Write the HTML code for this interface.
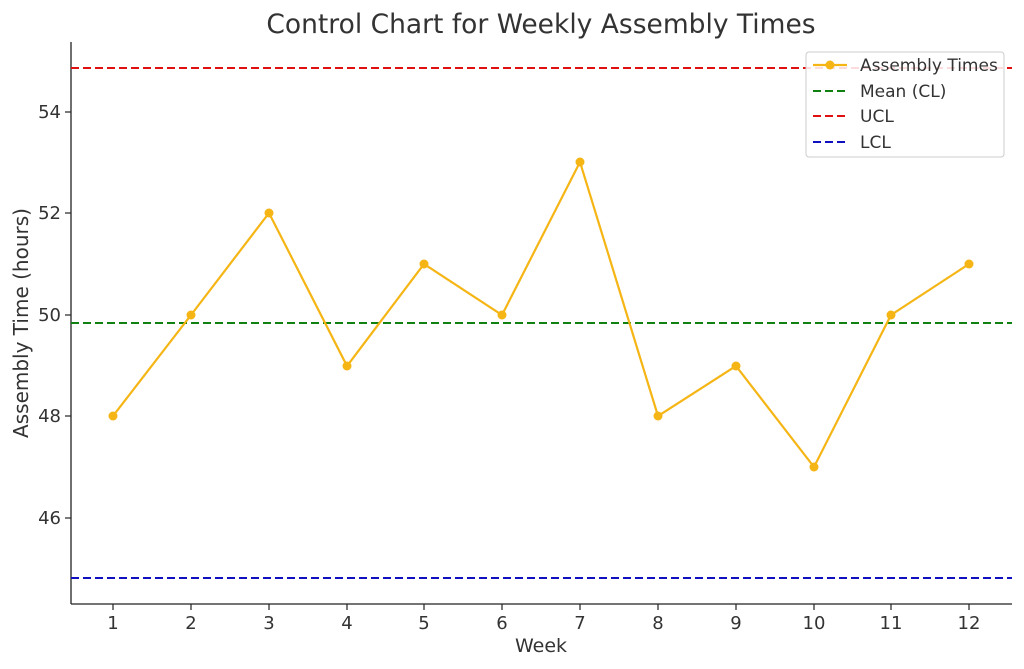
<!DOCTYPE html>
<html><head><meta charset="utf-8"><style>
body{margin:0;background:#fff;}
svg{display:block;font-family:"DejaVu Sans","Liberation Sans",sans-serif;}
</style></head><body>
<svg width="1024" height="669" viewBox="0 0 1024 669">
<text x="541" y="33" font-size="26.5" fill="#333" text-anchor="middle">Control Chart for Weekly Assembly Times</text>
<line x1="71" y1="42" x2="71" y2="604" stroke="#222" stroke-width="1.3"/>
<line x1="71" y1="604" x2="1012" y2="604" stroke="#222" stroke-width="1.3"/>
<g stroke="#222" stroke-width="1.2">
<line x1="65" y1="112" x2="71" y2="112"/><line x1="65" y1="213" x2="71" y2="213"/><line x1="65" y1="315" x2="71" y2="315"/><line x1="65" y1="416" x2="71" y2="416"/><line x1="65" y1="518" x2="71" y2="518"/>
</g>
<g font-size="18" fill="#333" text-anchor="end">
<text x="61" y="118">54</text><text x="61" y="219">52</text><text x="61" y="321">50</text><text x="61" y="422">48</text><text x="61" y="524">46</text>
</g>
<g font-size="18" fill="#333" text-anchor="middle">
<text x="113" y="629">1</text><text x="191" y="629">2</text><text x="269" y="629">3</text><text x="347" y="629">4</text><text x="424" y="629">5</text><text x="502" y="629">6</text><text x="580" y="629">7</text><text x="658" y="629">8</text><text x="736" y="629">9</text><text x="814" y="629">10</text><text x="891" y="629">11</text><text x="969" y="629">12</text>
</g>
<g stroke="#222" stroke-width="1.2">
<line x1="113" y1="604" x2="113" y2="610"/><line x1="191" y1="604" x2="191" y2="610"/><line x1="269" y1="604" x2="269" y2="610"/><line x1="347" y1="604" x2="347" y2="610"/><line x1="424" y1="604" x2="424" y2="610"/><line x1="502" y1="604" x2="502" y2="610"/><line x1="580" y1="604" x2="580" y2="610"/><line x1="658" y1="604" x2="658" y2="610"/><line x1="736" y1="604" x2="736" y2="610"/><line x1="814" y1="604" x2="814" y2="610"/><line x1="891" y1="604" x2="891" y2="610"/><line x1="969" y1="604" x2="969" y2="610"/>
</g>
<text x="541" y="652" font-size="19" fill="#333" text-anchor="middle">Week</text>
<text transform="translate(28,323) rotate(-90)" font-size="20" fill="#333" text-anchor="middle">Assembly Time (hours)</text>
<line x1="71" y1="68" x2="1012" y2="68" stroke="#e01010" stroke-width="2" stroke-dasharray="8,4"/>
<line x1="71" y1="323" x2="1012" y2="323" stroke="#108010" stroke-width="2" stroke-dasharray="8,4"/>
<line x1="71" y1="578" x2="1012" y2="578" stroke="#1010c0" stroke-width="2" stroke-dasharray="8,4"/>
<polyline fill="none" stroke="#f5b515" stroke-width="2.2" points="113,416 191,315 269,213 347,366 424,264 502,315 580,162 658,416 736,366 814,467 891,315 969,264"/>
<g fill="#f5b515">
<circle cx="113" cy="416" r="4.5"/><circle cx="191" cy="315" r="4.5"/><circle cx="269" cy="213" r="4.5"/><circle cx="347" cy="366" r="4.5"/><circle cx="424" cy="264" r="4.5"/><circle cx="502" cy="315" r="4.5"/><circle cx="580" cy="162" r="4.5"/><circle cx="658" cy="416" r="4.5"/><circle cx="736" cy="366" r="4.5"/><circle cx="814" cy="467" r="4.5"/><circle cx="891" cy="315" r="4.5"/><circle cx="969" cy="264" r="4.5"/>
</g>
<rect x="806" y="52" width="198" height="105" rx="3" fill="#fff" fill-opacity="0.85" stroke="#ccc"/>
<line x1="813" y1="65" x2="847" y2="65" stroke="#f5b515" stroke-width="2.2"/><circle cx="830" cy="65" r="4.5" fill="#f5b515"/>
<line x1="813" y1="91" x2="847" y2="91" stroke="#108010" stroke-width="2" stroke-dasharray="8,4"/>
<line x1="813" y1="116" x2="847" y2="116" stroke="#e01010" stroke-width="2" stroke-dasharray="8,4"/>
<line x1="813" y1="142" x2="847" y2="142" stroke="#1010c0" stroke-width="2" stroke-dasharray="8,4"/>
<g font-size="17" fill="#333">
<text x="860" y="71">Assembly Times</text><text x="860" y="97">Mean (CL)</text><text x="860" y="122">UCL</text><text x="860" y="148">LCL</text>
</g>
</svg>
</body></html>
